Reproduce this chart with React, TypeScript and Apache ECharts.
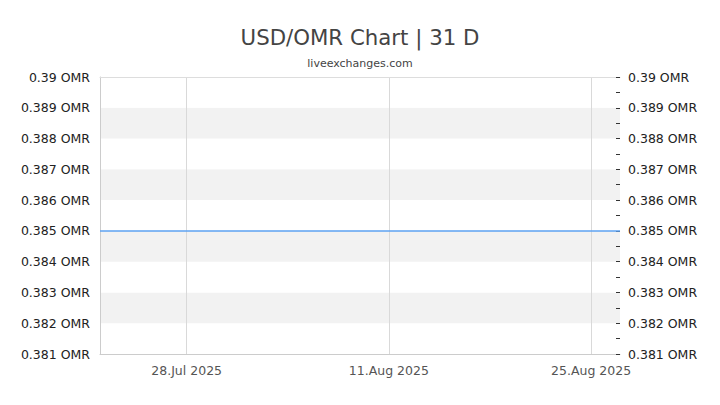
import { useEffect, useRef } from "react";
import * as echarts from "echarts";

const TITLE = "USD/OMR Chart | 31 D";
const SUBTITLE = "liveexchanges.com";

const dates = [
  "2025-07-22", "2025-07-23", "2025-07-24", "2025-07-25", "2025-07-28",
  "2025-07-29", "2025-07-30", "2025-07-31", "2025-08-01", "2025-08-04",
  "2025-08-05", "2025-08-06", "2025-08-07", "2025-08-08", "2025-08-11",
  "2025-08-12", "2025-08-13", "2025-08-14", "2025-08-15", "2025-08-18",
  "2025-08-19", "2025-08-20", "2025-08-21", "2025-08-22", "2025-08-25",
  "2025-08-26", "2025-08-27",
];
const rates = [
  0.385, 0.385, 0.385, 0.385, 0.385,
  0.385, 0.385, 0.385, 0.385, 0.385,
  0.385, 0.385, 0.385, 0.385, 0.385,
  0.385, 0.385, 0.385, 0.385, 0.385,
  0.385, 0.385, 0.385, 0.385, 0.385,
  0.385, 0.385,
];
const xTickDates = ["2025-07-28", "2025-08-11", "2025-08-25"];
const X_MIN = "2025-07-22";
const X_MAX = "2025-08-27";
const Y_MIN = 0.381;
const Y_MAX = 0.39;
const Y_STEP = 0.001;

const MONTHS = ["Jan", "Feb", "Mar", "Apr", "May", "Jun", "Jul", "Aug", "Sep", "Oct", "Nov", "Dec"];
const FONT = "DejaVu Sans";
const LINE_COLOR = "#5ea3f2";

const fmtDate = (v: number) => {
  const d = new Date(v);
  return `${d.getUTCDate()}.${MONTHS[d.getUTCMonth()]} ${d.getUTCFullYear()}`;
};
const fmtRate = (v: number) => `${parseFloat(v.toFixed(4))} OMR`;

const App = () => {
  const ref = useRef<HTMLDivElement | null>(null);

  useEffect(() => {
    if (!ref.current) return;
    const chart = echarts.init(ref.current, null, { renderer: "svg" });
    const tickValues = xTickDates.map((d) => Date.parse(d));
    const xMin = Date.parse(X_MIN);
    const xMax = Date.parse(X_MAX);

    const yLabel = {
      color: "#222",
      fontSize: 12.5,
      fontFamily: FONT,
      formatter: fmtRate,
    };

    chart.setOption({
      animation: false,
      backgroundColor: "#fff",
      title: [
        {
          text: TITLE,
          left: "center",
          top: 22,
          textStyle: { fontFamily: FONT, fontSize: 21.3, fontWeight: "normal", color: "#444" },
        },
        {
          text: SUBTITLE,
          left: "center",
          top: 53,
          textStyle: { fontFamily: FONT, fontSize: 11, fontWeight: "normal", color: "#444" },
        },
      ],
      grid: { left: 100, right: 100, top: 77, bottom: 51 },
      xAxis: [
        {
          type: "value",
          min: xMin,
          max: xMax,
          axisLine: { show: true, lineStyle: { color: "#ccc" } },
          axisTick: { show: false, customValues: tickValues },
          axisLabel: {
            customValues: tickValues,
            formatter: (v: number) => fmtDate(v),
            color: "#555",
            fontSize: 12.5,
            fontFamily: FONT,
            margin: 10,
            showMinLabel: true,
            showMaxLabel: true,
          },
          splitLine: { show: true, lineStyle: { color: "#d9d9d9", width: 1 } },
        },
        {
          type: "value",
          position: "top",
          min: xMin,
          max: xMax,
          axisLine: { show: true, lineStyle: { color: "#ddd" } },
          axisTick: { show: false },
          axisLabel: { show: false },
          splitLine: { show: false },
        },
      ],
      yAxis: [
        {
          type: "value",
          position: "left",
          min: Y_MIN,
          max: Y_MAX,
          interval: Y_STEP,
          axisLine: { show: true, lineStyle: { color: "#ccc" } },
          axisTick: { show: false },
          axisLabel: { ...yLabel, margin: 10 },
          splitLine: { show: false },
          splitArea: { show: true, areaStyle: { color: ["#ffffff", "#f2f2f2"] } },
        },
        {
          type: "value",
          position: "right",
          min: Y_MIN,
          max: Y_MAX,
          interval: Y_STEP,
          axisLine: { show: false },
          axisTick: { show: true, inside: true, length: 4, lineStyle: { color: "#333" } },
          minorTick: { show: true, splitNumber: 2, length: 4, lineStyle: { color: "#333" } },
          axisLabel: { ...yLabel, margin: 8 },
          splitLine: { show: false },
        },
      ],
      series: [
        {
          type: "line",
          xAxisIndex: 0,
          yAxisIndex: 0,
          showSymbol: false,
          lineStyle: { color: LINE_COLOR, width: 1.5 },
          data: dates.map((d, i) => [Date.parse(d), rates[i]]),
          z: 5,
        },
      ],
    });

    return () => chart.dispose();
  }, []);

  return (
    <div
      ref={ref}
      style={{ position: "fixed", left: 0, top: 0, width: 720, height: 405 }}
    />
  );
};

export default App;
